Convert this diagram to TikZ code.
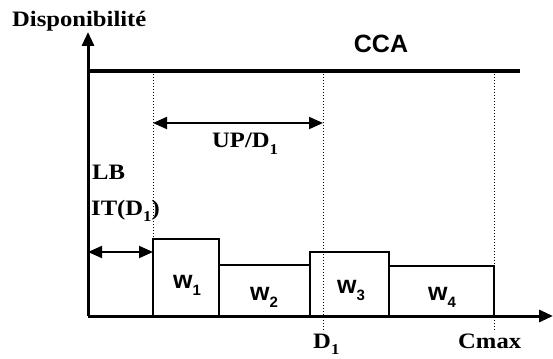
\documentclass[tikz,border=0pt]{standalone}
\usepackage{fontspec}
\usepackage{graphicx}
\setmainfont{Liberation Serif}
\newfontfamily\arialfont{Liberation Sans}
\usetikzlibrary{arrows.meta}
\newcommand{\mysub}[1]{\raisebox{-0.3em}{\fontsize{15}{15}\selectfont #1}}
\newcommand{\wide}[1]{\scalebox{1.12}[1]{#1}}
\tikzset{
  tm/.style={font=\fontsize{22}{22}\selectfont\bfseries, inner sep=0pt},
  ar/.style={font=\fontsize{25}{25}\selectfont\arialfont\bfseries, inner sep=0pt},
  axis/.style={line width=3pt},
  ccaline/.style={line width=3.5pt},
  guide/.style={line width=1pt, dotted},
  task/.style={draw, line width=1.6pt},
  dim/.style={line width=2pt, {Triangle[length=14pt,width=12pt]}-{Triangle[length=14pt,width=12pt]}},
}
\begin{document}
\begin{tikzpicture}[x=1pt,y=-1pt]
\useasboundingbox (0,0) rectangle (553,358);
% coordinates
\coordinate (O) at (88,316);
\coordinate (Ytop) at (88,32);
\coordinate (Xend) at (553,316);
\coordinate (Cs) at (88,71);
\coordinate (Ce) at (520,71);
\coordinate (g1t) at (153,71);
\coordinate (g1b) at (153,239);
\coordinate (g2t) at (323,71);
\coordinate (g2b) at (323,332);
\coordinate (g3t) at (494,71);
\coordinate (g3b) at (494,332);
\coordinate (ua) at (153,123);
\coordinate (ub) at (323,123);
\coordinate (ia) at (88,252);
\coordinate (ib) at (153,252);
% guides
\draw[guide] (g1t) -- (g1b);
\draw[guide] (g2t) -- (g2b);
\draw[guide] (g3t) -- (g3b);
% tasks
\draw[task] (153,316) rectangle (219,239);
\draw[task] (219,316) rectangle (310,265);
\draw[task] (310,316) rectangle (389,252);
\draw[task] (389,316) rectangle (494,266);
% axes
\draw[axis, -{Triangle[length=14pt,width=12pt]}] (O) -- (Ytop);
\draw[axis, -{Triangle[length=14pt,width=12pt]}] (O) -- (Xend);
\draw[ccaline] (Cs) -- (Ce);
% dimension arrows
\draw[dim] (ua) -- (ub);
\draw[dim] (ia) -- (ib);
% labels
\node[tm, anchor=base west] (disp) at (12,27) {\wide{Disponibilité}};
\node[ar] (cca) at (381,44) {CCA};
\node[tm, anchor=base west] (up) at (212,148) {\wide{UP/D\mysub{1}}};
\node[tm, anchor=base west] (lb) at (92,179) {\wide{LB}};
\node[tm, anchor=base west] (it) at (91,215) {\wide{IT(D\mysub{1})}};
\node[tm, anchor=base west] (d1) at (313,348) {\wide{D\mysub{1}}};
\node[tm, anchor=base west] (cmax) at (458,348) {\wide{Cmax}};
\node[ar, anchor=base west] (w1) at (173,288) {w\mysub{1}};
\node[ar, anchor=base west] (w2) at (250,300) {w\mysub{2}};
\node[ar, anchor=base west] (w3) at (337,293) {w\mysub{3}};
\node[ar, anchor=base west] (w4) at (428,300) {w\mysub{4}};
\end{tikzpicture}
\end{document}
